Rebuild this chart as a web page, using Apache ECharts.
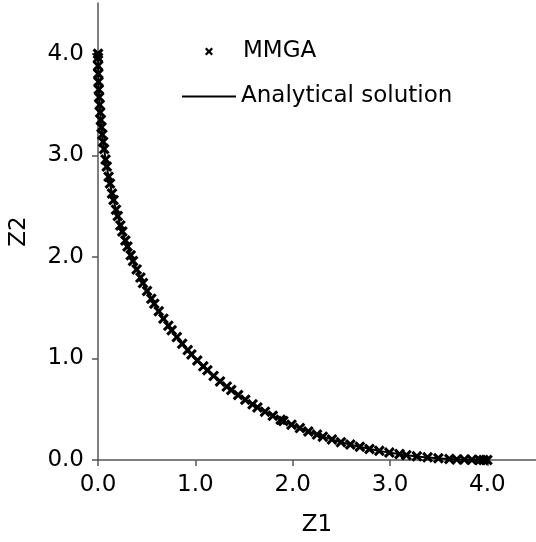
<!DOCTYPE html>
<html lang="en">
<head>
    <meta charset="UTF-8">
    <title>MMGA vs Analytical solution</title>
    <script src="https://cdn.jsdelivr.net/npm/echarts@6/dist/echarts.min.js"></script>
    <style>
        html, body { margin: 0; padding: 0; background: #fff; }
        #main { width: 536px; height: 542px; }
    </style>
</head>
<body>
    <div id="main"></div>
    <script>
        // MMGA points
        var mmgaZ1 = [0, 0.0001, 0.001, 0.003, 0.005, 0.008, 0.012, 0.017, 0.023, 0.029, 0.036, 0.044,
            0.053, 0.063, 0.078, 0.09, 0.109, 0.123, 0.144, 0.16, 0.185, 0.203, 0.23, 0.25, 0.281,
            0.303, 0.336, 0.36, 0.397, 0.436, 0.462, 0.504, 0.548, 0.578, 0.624, 0.672, 0.723,
            0.757, 0.81, 0.865, 0.922, 0.96, 1.02, 1.082, 1.124, 1.188, 1.254, 1.323, 1.369, 1.44,
            1.513, 1.588, 1.638, 1.716, 1.796, 1.877, 1.904, 1.988, 2.074, 2.161, 2.25, 2.31, 2.403,
            2.496, 2.592, 2.69, 2.789, 2.89, 2.993, 3.098, 3.168, 3.276, 3.386, 3.497, 3.61, 3.686,
            3.764, 3.842, 3.92, 3.96, 4.0];
        var mmgaZ2 = [4.0, 3.96, 3.881, 3.803, 3.725, 3.648, 3.572, 3.497, 3.423, 3.349, 3.276, 3.204,
            3.133, 3.063, 2.958, 2.89, 2.789, 2.723, 2.624, 2.56, 2.465, 2.403, 2.31, 2.25, 2.161,
            2.103, 2.016, 1.96, 1.877, 1.796, 1.742, 1.664, 1.588, 1.538, 1.464, 1.392, 1.323,
            1.277, 1.21, 1.145, 1.082, 1.04, 0.98, 0.922, 0.884, 0.828, 0.774, 0.723, 0.689, 0.64,
            0.593, 0.548, 0.518, 0.476, 0.436, 0.397, 0.384, 0.348, 0.314, 0.281, 0.25, 0.23, 0.203,
            0.176, 0.152, 0.13, 0.109, 0.09, 0.073, 0.058, 0.048, 0.036, 0.026, 0.017, 0.01, 0.006,
            0.004, 0.002, 0.0004, 0.0001, 0];

        // analytical front
        var exactZ1 = [0, 0.0025, 0.01, 0.0225, 0.04, 0.0625, 0.09, 0.1225, 0.16, 0.2025, 0.25, 0.3025,
            0.36, 0.4225, 0.49, 0.5625, 0.64, 0.7225, 0.81, 0.9025, 1.0, 1.1025, 1.21, 1.3225, 1.44,
            1.5625, 1.69, 1.8225, 1.96, 2.1025, 2.25, 2.4025, 2.56, 2.7225, 2.89, 3.0625, 3.24,
            3.4225, 3.61, 3.8025, 4.0];
        var exactZ2 = [4.0, 3.8025, 3.61, 3.4225, 3.24, 3.0625, 2.89, 2.7225, 2.56, 2.4025, 2.25, 2.1025,
            1.96, 1.8225, 1.69, 1.5625, 1.44, 1.3225, 1.21, 1.1025, 1.0, 0.9025, 0.81, 0.7225, 0.64,
            0.5625, 0.49, 0.4225, 0.36, 0.3025, 0.25, 0.2025, 0.16, 0.1225, 0.09, 0.0625, 0.04,
            0.0225, 0.01, 0.0025, 0];

        var tickValues = [0, 1, 2, 3, 4];

        // bold "x" marker
        var crossPath = 'path://M0,2L2,0L5,3L8,0L10,2L7,5L10,8L8,10L5,7L2,10L0,8L3,5Z';
        var font = 'DejaVu Sans';
        var fs = 23;

        var myChart = echarts.init(document.getElementById('main'));

        var option = {
            animation: false,
            textStyle: { fontFamily: font },
            grid: { left: 97, right: 0, top: 3, bottom: 81 },
            legend: [{
                data: [{ name: 'MMGA', icon: crossPath }],
                left: 205, top: 40, padding: 0,
                itemWidth: 8, itemHeight: 8,
                textStyle: { fontSize: fs, color: '#000', fontFamily: font, padding: [0, 0, 0, 25] }
            }, {
                data: [{ name: 'Analytical solution', icon: 'rect' }],
                left: 182, top: 85, padding: 0,
                itemWidth: 54, itemHeight: 2,
                textStyle: { fontSize: fs, color: '#000', fontFamily: font }
            }],
            xAxis: {
                type: 'value', min: 0, max: 4.5, interval: 1,
                name: 'Z1', nameLocation: 'middle', nameGap: 54,
                nameTextStyle: { fontSize: fs, color: '#000', fontFamily: font },
                axisLine: { lineStyle: { color: '#555', width: 1.5 } },
                axisTick: { show: true, length: 6, lineStyle: { color: '#555', width: 1.5 },
                    customValues: tickValues },
                axisLabel: { fontSize: fs, color: '#000', margin: 14,
                    customValues: tickValues,
                    formatter: function (v) { return v.toFixed(1); } },
                splitLine: { show: false }
            },
            yAxis: {
                type: 'value', min: 0, max: 4.5, interval: 1,
                name: 'Z2', nameLocation: 'middle', nameGap: 67,
                nameTextStyle: { fontSize: fs, color: '#000', fontFamily: font },
                axisLine: { show: true, lineStyle: { color: '#555', width: 1.5 } },
                axisTick: { show: true, length: 6, lineStyle: { color: '#555', width: 1.5 },
                    customValues: tickValues },
                axisLabel: { fontSize: fs, color: '#000', margin: 14,
                    customValues: tickValues,
                    formatter: function (v) { return v.toFixed(1); } },
                splitLine: { show: false }
            },
            series: [{
                name: 'Analytical solution',
                type: 'line',
                data: exactZ1.map(function (x, i) { return [x, exactZ2[i]]; }),
                showSymbol: false,
                symbol: 'none',
                smooth: true,
                lineStyle: { color: '#000', width: 2 },
                itemStyle: { color: '#000' },
                z: 2
            }, {
                name: 'MMGA',
                type: 'scatter',
                data: mmgaZ1.map(function (x, i) { return [x, mmgaZ2[i]]; }),
                symbol: crossPath,
                symbolSize: 11,
                itemStyle: { color: '#000', opacity: 1 },
                z: 3
            }]
        };

        myChart.setOption(option);
    </script>
</body>
</html>
